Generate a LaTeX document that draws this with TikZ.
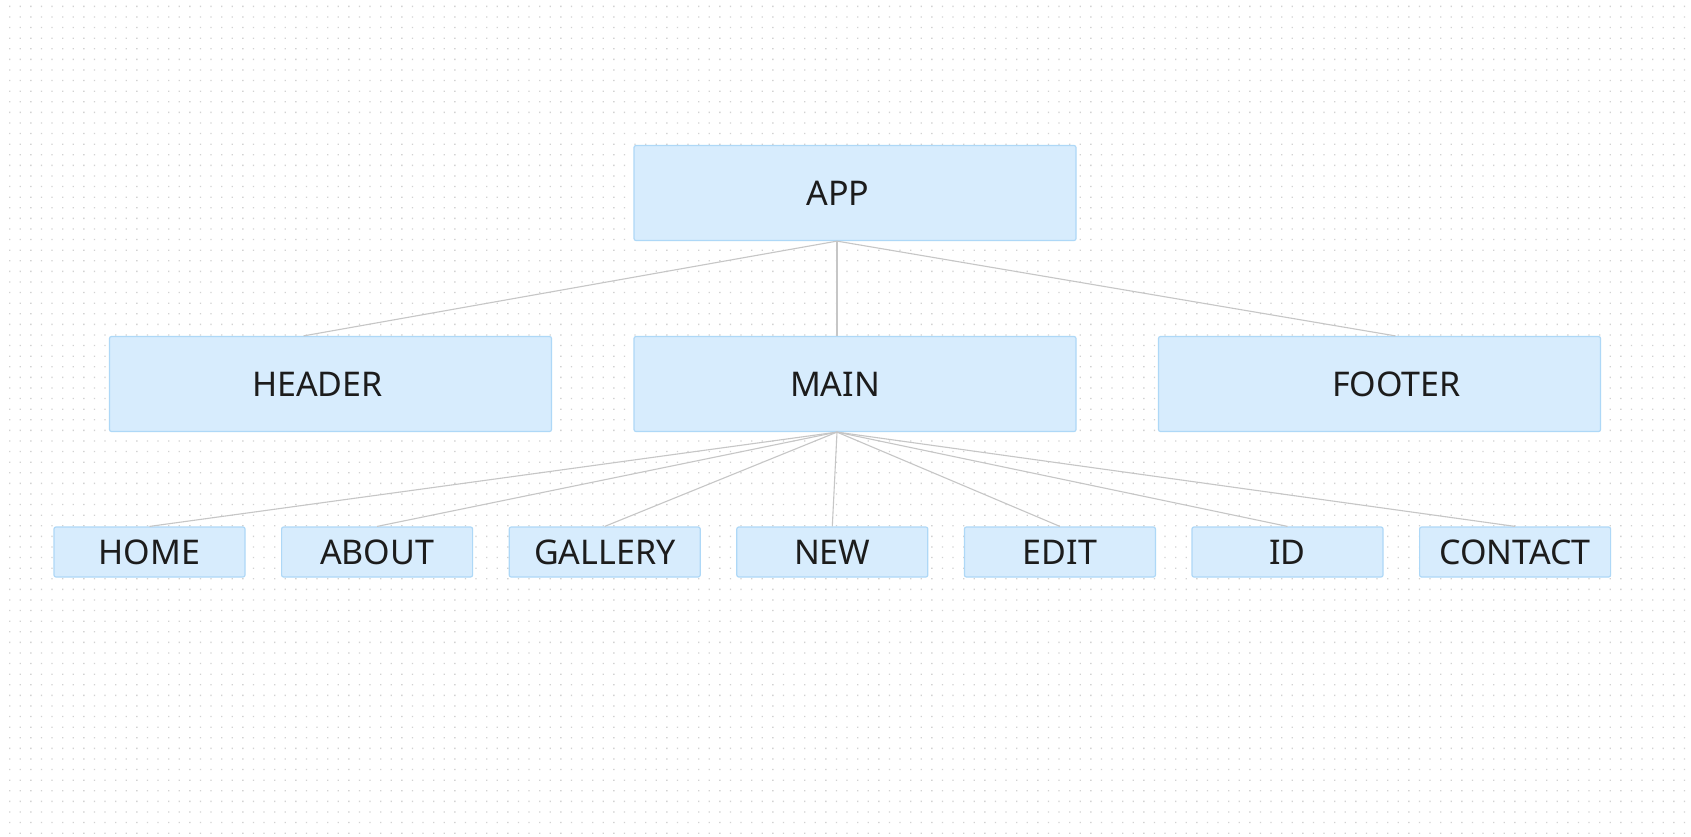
\documentclass[tikz,border=0pt]{standalone}
\usepackage{fontspec}
\setmainfont{Noto Sans}
\usetikzlibrary{calc}
\definecolor{boxfill}{HTML}{D7ECFD}
\definecolor{boxline}{HTML}{AED8F7}
\definecolor{linkgray}{HTML}{C6C6C6}
\definecolor{dotgray}{HTML}{D2D2D2}
\definecolor{inkblack}{HTML}{1C1C1C}

\begin{document}
\begin{tikzpicture}[x=0.5pt,y=-0.5pt,font=\fontsize{17}{20}\selectfont,
		block/.style={draw=boxline,fill=boxfill,line width=0.6pt,rounded corners=1pt,
			minimum width=221pt,minimum height=47.5pt,inner sep=0pt,text=inkblack},
		leaf/.style={block,minimum width=95.5pt,minimum height=25pt},
		link/.style={draw=linkgray,line width=0.55pt}]
	\fill[white] (0,0) rectangle (1691,836);
	\useasboundingbox (0,0) rectangle (1691,836);
	% dotted canvas
	\foreach \gy in {0,...,78} {
		\fill[dotgray] \foreach \gx in {0,...,158} {
			({9+10.6*\gx},{5.7+10.6*\gy}) rectangle ++(1.3,1.3)
		};
	}
	% top levels
	\node[block,label={[text=inkblack,xshift=-8.5pt]center:APP}] (app) at (855,193) {};
	\node[block,label={[text=inkblack,xshift=-6.5pt]center:HEADER}] (header) at (330.5,384) {};
	\node[block,label={[text=inkblack,xshift=-10pt]center:MAIN}] (main) at (855,384) {};
	\node[block,label={[text=inkblack,xshift=8.5pt]center:FOOTER}] (footer) at (1379.5,384) {};
	\coordinate (appout) at ($(app.south)+(-18,0)$);
	\coordinate (mainin) at ($(main.north)+(-18,0)$);
	\coordinate (mainout) at ($(main.south)+(-18,0)$);
	\draw[link] (appout) -- ($(header.north)+(-27,0)$);
	\draw[link] (appout) -- (mainin);
	\draw[link] (appout) -- ($(footer.north)+(16,0)$);
	% pages under main
	\foreach \name/\txt/\i in {home/HOME/0,about/ABOUT/1,gallery/GALLERY/2,new/NEW/3,edit/EDIT/4,id/ID/5,contact/CONTACT/6} {
		\node[leaf] (\name) at ({149.5+227.6*\i},552) {\txt};
		\draw[link] (mainout) -- (\name.north);
	}
\end{tikzpicture}
\end{document}
